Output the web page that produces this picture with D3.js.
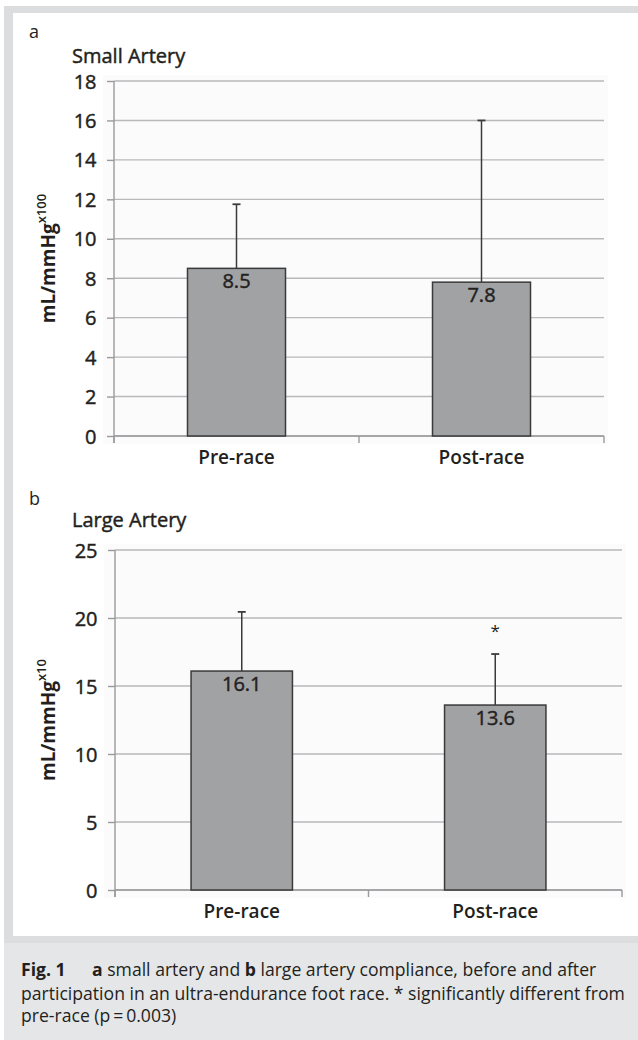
<!DOCTYPE html>
<html><head><meta charset="utf-8">
<script src="https://cdn.jsdelivr.net/npm/d3@7"></script>
<style>html,body{margin:0;padding:0;background:#fff;} svg{display:block;} .thick{stroke:#231f20;stroke-width:0.45px;paint-order:stroke;}</style>
</head><body>
<script>
// ---- data ----
const categories = ["Pre-race", "Post-race"];
const smallMeans = [8.5, 7.8];
const smallSD = [3.25, 8.2];
const smallTicks = [0, 2, 4, 6, 8, 10, 12, 14, 16, 18];
const largeMeans = [16.1, 13.6];
const largeSD = [4.35, 3.75];
const largeTicks = [0, 5, 10, 15, 20, 25];
const largeSig = [false, true];
const panelLetters = ["a", "b"];
const panelTitles = ["Small Artery", "Large Artery"];
const yUnitSup = ["x100", "x10"];
const captionLines = [
  [["Fig. 1", 700], ["\u2003\u2002", 400], ["a", 700], [" small artery and ", 400], ["b", 700], [" large artery compliance, before and after", 400]],
  [["participation in an ultra-endurance foot race. * significantly different from", 400]],
  [["pre-race (p\u2009=\u20090.003)", 400]]
];

const W = 638, H = 1040;
const FONT = "'Open Sans', 'Noto Sans', sans-serif";
const INK = "#231f20";
const svg = d3.select("body").append("svg").attr("width", W).attr("height", H)
  .style("font-family", FONT);

// frame
svg.append("rect").attr("x", 4).attr("y", 6).attr("width", W - 4).attr("height", 937).attr("fill", "#dcdddf");
svg.append("rect").attr("x", 13).attr("y", 13).attr("width", W - 13).attr("height", 923).attr("fill", "#ffffff");
svg.append("rect").attr("x", 4).attr("y", 943).attr("width", W - 4).attr("height", H - 943).attr("fill", "#e5e6e8");

function panel(cfg) {
  const g = svg.append("g");
  const x = d3.scaleBand().domain(categories).range([cfg.x0, cfg.x1]).paddingInner(0.6).paddingOuter(0.3);
  const y = d3.scaleLinear().domain([0, d3.max(cfg.ticks)]).range([cfg.yBottom, cfg.yTop]);

  // plot background
  g.append("rect").attr("x", cfg.x0 - 11).attr("y", cfg.yTop - 6)
    .attr("width", cfg.x1 - cfg.x0 + 15).attr("height", cfg.yBottom - cfg.yTop + 14)
    .attr("fill", "#fbfbfb");

  // gridlines
  g.selectAll(".grid").data(cfg.ticks).join("line")
    .attr("x1", cfg.x0).attr("x2", cfg.x1)
    .attr("y1", d => y(d)).attr("y2", d => y(d))
    .attr("stroke", "#b9b9bb").attr("stroke-width", 1.4);

  // y axis
  const yAxis = d3.axisLeft(y).tickValues(cfg.ticks).tickSize(7).tickPadding(11).tickFormat(d3.format("d"));
  const ya = g.append("g").attr("transform", `translate(${cfg.x0},0)`).call(yAxis);
  ya.select(".domain").attr("stroke", "#9a9a9c").attr("stroke-width", 1.4)
    .attr("d", `M-0,${cfg.yTop}V${cfg.yBottom + 7}`);
  ya.selectAll(".tick line").attr("stroke", "#9a9a9c").attr("stroke-width", 1.4);
  ya.selectAll(".tick text").attr("class", "thick").attr("fill", INK).style("font-size", "20px")
    .style("font-family", FONT).attr("x", -17.5).attr("dy", "0.35em");

  // x axis baseline + category boundary ticks
  const step = x.step();
  const bounds = d3.range(categories.length + 1).map(i => cfg.x0 + i * step);
  g.append("line").attr("x1", cfg.x0).attr("x2", cfg.x1).attr("y1", y(0)).attr("y2", y(0))
    .attr("stroke", "#9a9a9c").attr("stroke-width", 1.4);
  g.selectAll(".xt").data(bounds).join("line")
    .attr("x1", d => d).attr("x2", d => d).attr("y1", y(0)).attr("y2", y(0) + 7)
    .attr("stroke", "#9a9a9c").attr("stroke-width", 1.4);

  // bars
  g.selectAll(".bar").data(cfg.means).join("rect")
    .attr("x", (d, i) => x(categories[i])).attr("width", x.bandwidth())
    .attr("y", d => y(d)).attr("height", d => y(0) - y(d))
    .attr("fill", "#a1a2a4").attr("stroke", "#3a3a3a").attr("stroke-width", 1.5);

  // error bars
  const cx = i => x(categories[i]) + x.bandwidth() / 2;
  const eb = g.selectAll(".eb").data(cfg.means).join("g");
  eb.append("line")
    .attr("x1", (d, i) => cx(i)).attr("x2", (d, i) => cx(i))
    .attr("y1", d => y(d)).attr("y2", (d, i) => y(d + cfg.sd[i]))
    .attr("stroke", "#3a3a3a").attr("stroke-width", 1.5);
  eb.append("line")
    .attr("x1", (d, i) => cx(i) - 4).attr("x2", (d, i) => cx(i) + 4)
    .attr("y1", (d, i) => y(d + cfg.sd[i])).attr("y2", (d, i) => y(d + cfg.sd[i]))
    .attr("stroke", "#3a3a3a").attr("stroke-width", 1.8);

  // value labels
  g.selectAll(".vl").data(cfg.means).join("text").attr("class", "thick")
    .attr("x", (d, i) => cx(i)).attr("y", d => y(d) + 20)
    .attr("text-anchor", "middle").attr("fill", INK).style("font-size", "20px")
    .text(d => d.toFixed(1));

  // significance
  if (cfg.sig) {
    const idx = d3.range(cfg.means.length).filter(i => cfg.sig[i]);
    g.selectAll(".sig").data(idx).join("text")
      .attr("x", i => cx(i)).attr("y", i => y(cfg.means[i] + cfg.sd[i]) - 17)
      .attr("text-anchor", "middle").attr("fill", INK).style("font-size", "17px")
      .text("*");
  }

  // category labels
  g.selectAll(".cl").data(categories).join("text")
    .attr("x", d => x(d) + x.bandwidth() / 2).attr("y", y(0) + 28)
    .attr("text-anchor", "middle").attr("fill", INK).style("font-size", "19px").style("font-weight", 600)
    .text(d => d);

  // panel letter + title
  g.append("text").attr("x", 29).attr("y", cfg.letterY).attr("fill", INK).style("font-size", "18px").text(cfg.letter);
  g.append("text").attr("class", "thick").attr("x", 72).attr("y", cfg.titleY).attr("fill", INK).style("font-size", "20px").text(cfg.title);

  // y axis title
  const cy = (cfg.yTop + cfg.yBottom) / 2;
  const yt = g.append("text").attr("transform", `translate(55,${cy}) rotate(-90)`)
    .attr("text-anchor", "middle").attr("fill", INK).style("font-size", "19px").style("font-weight", 700);
  yt.append("tspan").text("mL/mmHg");
  yt.append("tspan").attr("dy", -9).style("font-size", "13px").style("font-weight", 600).text(cfg.sup);
}

panel({ x0: 114, x1: 604, yBottom: 436, yTop: 81, ticks: smallTicks, means: smallMeans, sd: smallSD,
  letter: panelLetters[0], title: panelTitles[0], letterY: 38, titleY: 63, sup: yUnitSup[0] });
panel({ x0: 115, x1: 622, yBottom: 890, yTop: 550, ticks: largeTicks, means: largeMeans, sd: largeSD, sig: largeSig,
  letter: panelLetters[1], title: panelTitles[1], letterY: 505, titleY: 527, sup: yUnitSup[1] });

// caption
const capY = [976, 1000, 1022];
const capG = svg.append("g");
let capSize = 17.5;
const texts = captionLines.map((line, li) => {
  const t = capG.append("text").attr("x", 21).attr("y", capY[li]).attr("fill", INK).style("font-size", capSize + "px");
  line.forEach(([s, w]) => t.append("tspan").style("font-weight", w).text(s));
  return t;
});
const w2 = texts[1].node().getComputedTextLength();
capSize = capSize * 604 / w2;
texts.forEach(t => t.style("font-size", capSize + "px"));
</script>
</body></html>
